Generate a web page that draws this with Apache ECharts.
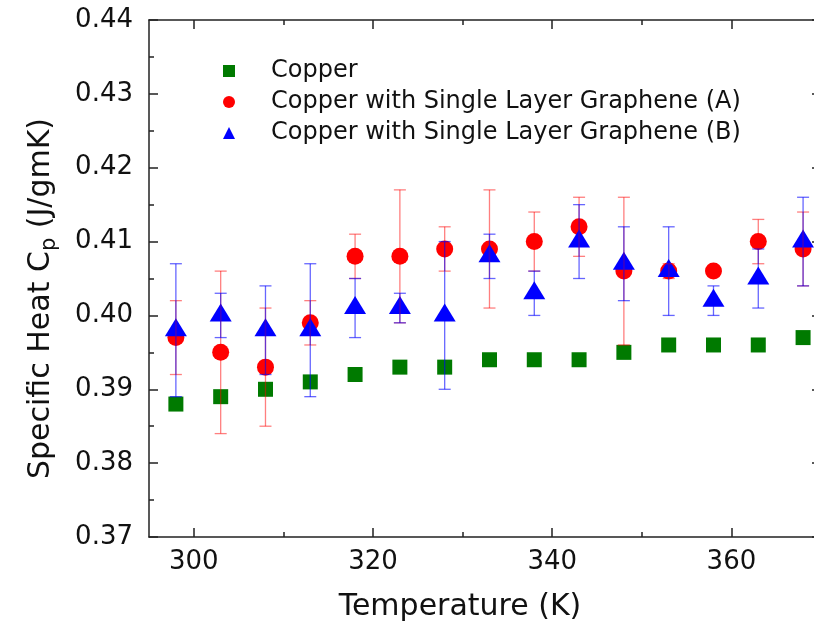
<!DOCTYPE html>
<html>
<head>
<meta charset="utf-8">
<script src="https://cdn.jsdelivr.net/npm/echarts@6/dist/echarts.min.js"></script>
<style>
html,body{margin:0;padding:0;background:#fff;}
#chart{width:814px;height:627px;}
</style>
</head>
<body>
<div id="chart"></div>
<script>
// ---- data ----
const temperatures = [298, 303, 308, 313, 318, 323, 328, 333, 338, 343, 348, 353, 358, 363, 368];
const copper = [0.388, 0.389, 0.390, 0.391, 0.392, 0.393, 0.393, 0.394, 0.394, 0.394, 0.395, 0.396, 0.396, 0.396, 0.397];
const grapheneA = [0.397, 0.395, 0.393, 0.399, 0.408, 0.408, 0.409, 0.409, 0.410, 0.412, 0.406, 0.406, 0.406, 0.410, 0.409];
const grapheneAErr = [0.005, 0.011, 0.008, 0.003, 0.003, 0.009, 0.003, 0.008, 0.004, 0.004, 0.010, 0.001, 0.000, 0.003, 0.005];
const grapheneB = [0.398, 0.400, 0.398, 0.398, 0.401, 0.401, 0.400, 0.408, 0.403, 0.410, 0.407, 0.406, 0.402, 0.405, 0.410];
const grapheneBErr = [0.009, 0.003, 0.006, 0.009, 0.004, 0.002, 0.010, 0.003, 0.003, 0.005, 0.005, 0.006, 0.002, 0.004, 0.006];
const seriesNames = ['Copper', 'Copper with Single Layer Graphene (A)', 'Copper with Single Layer Graphene (B)'];
const xMajorTicks = [300, 320, 340, 360];
const xMinorTicks = [310, 330, 350];

const FONT = 'DejaVu Sans';
const TXT = '#111';
const AX = '#222';

const chart = echarts.init(document.getElementById('chart'), null, {renderer: 'canvas'});

function errorBars(vals, errs, color) {
  return {
    type: 'custom',
    xAxisIndex: 0, yAxisIndex: 0,
    silent: true,
    data: temperatures.map((t, i) => [t, vals[i], errs[i]]),
    encode: {x: 0, y: 1},
    renderItem: function (params, api) {
      const x = api.value(0), y = api.value(1), e = api.value(2);
      if (!e) return {type: 'group', children: []};
      const top = api.coord([x, y + e]);
      const bot = api.coord([x, y - e]);
      const cw = 6;
      const st = {stroke: color, lineWidth: 1.3};
      return {
        type: 'group',
        children: [
          {type: 'line', shape: {x1: top[0], y1: top[1], x2: bot[0], y2: bot[1]}, style: st},
          {type: 'line', shape: {x1: top[0] - cw, y1: top[1], x2: top[0] + cw, y2: top[1]}, style: st},
          {type: 'line', shape: {x1: bot[0] - cw, y1: bot[1], x2: bot[0] + cw, y2: bot[1]}, style: st}
        ]
      };
    }
  };
}

const lineStyle = {color: AX, width: 1.5};
const xBase = {type: 'value', min: 295, max: 370, splitLine: {show: false}, gridIndex: 0};

const option = {
  animation: false,
  backgroundColor: '#fff',
  grid: {left: 149, top: 20, width: 672, bottom: 90, containLabel: false, outerBoundsMode: 'none'},
  legend: {
    orient: 'vertical',
    left: 218, top: 52,
    itemWidth: 12, itemHeight: 12,
    itemGap: 3,
    data: seriesNames,
    textStyle: {fontFamily: FONT, fontSize: 24, color: TXT, lineHeight: 28, padding: [0, 0, 0, 31]}
  },
  xAxis: [
    Object.assign({}, xBase, {
      position: 'bottom',
      name: 'Temperature (K)', nameLocation: 'middle', nameGap: 55,
      nameTextStyle: {fontFamily: FONT, fontSize: 30, color: TXT, padding: [0, 50, 0, 0]},
      axisLine: {show: true, lineStyle: lineStyle},
      axisTick: {show: true, inside: true, length: 9, lineStyle: lineStyle, customValues: xMajorTicks},
      axisLabel: {show: true, margin: 12, fontFamily: FONT, fontSize: 26, color: TXT, customValues: xMajorTicks}
    }),
    Object.assign({}, xBase, {
      position: 'bottom',
      axisLine: {show: false},
      axisTick: {show: true, inside: true, length: 5, lineStyle: lineStyle, customValues: xMinorTicks},
      axisLabel: {show: false}
    }),
    Object.assign({}, xBase, {
      position: 'top',
      axisLine: {show: true, lineStyle: lineStyle},
      axisTick: {show: true, inside: true, length: 9, lineStyle: lineStyle, customValues: xMajorTicks},
      axisLabel: {show: false}
    }),
    Object.assign({}, xBase, {
      position: 'top',
      axisLine: {show: false},
      axisTick: {show: true, inside: true, length: 5, lineStyle: lineStyle, customValues: xMinorTicks},
      axisLabel: {show: false}
    })
  ],
  yAxis: [
    {
      type: 'value', position: 'left', min: 0.37, max: 0.44, interval: 0.01,
      name: '{a|Specific Heat C}{s|p}{a| (J/gmK)}',
      nameLocation: 'middle', nameGap: 89,
      nameTextStyle: {
        fontFamily: FONT, fontSize: 30, color: TXT, padding: [0, 40, 0, 0],
        rich: {
          a: {fontFamily: FONT, fontSize: 30, color: TXT},
          s: {fontFamily: FONT, fontSize: 21, color: TXT, padding: [16, 0, 0, 0]}
        }
      },
      axisLine: {show: true, lineStyle: lineStyle},
      axisTick: {show: true, inside: true, length: 9, lineStyle: lineStyle},
      minorTick: {show: true, splitNumber: 2, length: 5, lineStyle: lineStyle},
      axisLabel: {margin: 16, fontFamily: FONT, fontSize: 26, color: TXT, formatter: v => v.toFixed(2)},
      splitLine: {show: false}, minorSplitLine: {show: false}
    },
    {
      type: 'value', position: 'right', min: 0.37, max: 0.44, interval: 0.01,
      axisLine: {show: true, lineStyle: lineStyle},
      axisTick: {show: true, inside: true, length: 9, lineStyle: lineStyle},
      minorTick: {show: true, splitNumber: 2, length: 5, lineStyle: lineStyle},
      axisLabel: {show: false},
      splitLine: {show: false}, minorSplitLine: {show: false}
    }
  ],
  series: [
    {
      name: seriesNames[0], type: 'scatter', z: 2,
      symbol: 'rect', symbolSize: 15,
      itemStyle: {color: '#007a00', opacity: 1},
      data: temperatures.map((t, i) => [t, copper[i]])
    },
    {
      name: seriesNames[1], type: 'scatter', z: 3,
      symbol: 'circle', symbolSize: 17,
      itemStyle: {color: '#ff0000', opacity: 1},
      data: temperatures.map((t, i) => [t, grapheneA[i]])
    },
    {
      name: seriesNames[2], type: 'scatter', z: 4,
      symbol: 'triangle', symbolSize: [22, 18], symbolOffset: [0, -3],
      itemStyle: {color: '#0000ff', opacity: 1},
      data: temperatures.map((t, i) => [t, grapheneB[i]])
    },
    Object.assign(errorBars(grapheneA, grapheneAErr, 'rgba(255,0,0,0.5)'), {z: 5}),
    Object.assign(errorBars(grapheneB, grapheneBErr, 'rgba(0,0,255,0.6)'), {z: 6})
  ]
};
chart.setOption(option);
</script>
</body>
</html>
